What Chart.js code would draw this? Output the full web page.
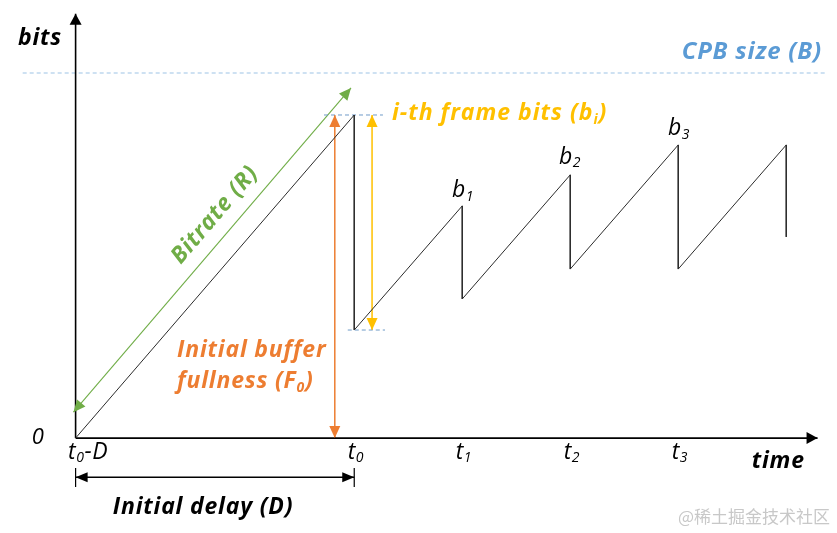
<!DOCTYPE html>
<html>
<head>
<meta charset="utf-8">
<script src="https://cdn.jsdelivr.net/npm/chart.js@4"></script>
<style>
  html, body { margin: 0; padding: 0; background: #fff; }
  #wrap { position: relative; width: 837px; height: 533px; }
  .mark { position: absolute; right: 7px; bottom: 5px; font: 17px "Noto Sans CJK SC", sans-serif; color: #c8c8c8; }
</style>
</head>
<body>
<div id="wrap">
  <canvas id="cpb" width="837" height="533"></canvas>
  <div class="mark">@稀土掘金技术社区</div>
</div>
<script>
/* CPB (coded picture buffer) fullness over time
   time unit = one frame period, t0-D = 0 ; bits in % of CPB size B */

const frameLabels = ['t0', 't1', 't2', 't3'];
const frameTimes = [2.58, 3.58, 4.58, 5.58];

// buffer fullness sawtooth (rise at rate R, drop by b_i at each t_i)
const sawTimes = [0, 2.58, 2.58, 3.58, 3.58, 4.58, 4.58, 5.58, 5.58, 6.58, 6.58];
const sawBits = [0, 88.5, 29.6, 63.6, 38.1, 72.1, 46.3, 80.3, 46.3, 80.3, 55.1];

const cpbSize = 100;
const timeAxisEnd = 6.87;
const bitsAxisEnd = 116.2;
const cpbLineFrom = -0.49, cpbLineTo = 6.96;

// bitrate arrow (parallel to the first rise)
const rateTimes = [-0.02, 2.55];
const rateBits = [7.1, 95.9];

const f0Time = 2.40;       // initial buffer fullness arrow
const biTime = 2.745;      // i-th frame bits arrow
const f0Bits = 88.5;
const afterB0 = 29.6;
const delayLevel = -10.7;  // initial delay arrow
const delayTick = [-8.2, -13.4];

const pts = (xs, ys) => xs.map((x, i) => ({ x, y: ys[i] }));

const line = (data, color, width, extra) => Object.assign({
  data, borderColor: color, backgroundColor: color, borderWidth: width,
  showLine: true, pointRadius: 0, fill: false, tension: 0
}, extra || {});

const datasets = [
  line(pts(sawTimes, sawBits), '#2b2b2b', 1),
  line(pts([0, 0], [0, bitsAxisEnd]), '#000', 1.6, { arrow: 'end', arrowLen: 11, arrowWidth: 12 }),
  line(pts([0, timeAxisEnd], [0, 0]), '#000', 1.6, { arrow: 'end', arrowLen: 11, arrowWidth: 12 }),
  line(pts([cpbLineFrom, cpbLineTo], [cpbSize, cpbSize]), '#9dc3e6', 1.2, { borderDash: [4, 3] }),
  line(pts([2.30, 2.846], [f0Bits, f0Bits]), '#6f9bc8', 1, { borderDash: [4, 3] }),
  line(pts([2.52, 2.865], [afterB0, afterB0]), '#6f9bc8', 1, { borderDash: [4, 3] }),
  line(pts(rateTimes, rateBits), '#70ad47', 1.1, { arrow: 'both', arrowLen: 12, arrowWidth: 11 }),
  line(pts([f0Time, f0Time], [0, f0Bits]), '#ed7d31', 1.5, { arrow: 'both', arrowLen: 12, arrowWidth: 11 }),
  line(pts([biTime, biTime], [f0Bits, afterB0]), '#ffc000', 1.5, { arrow: 'both', arrowLen: 12, arrowWidth: 11 }),
  line(pts([0, frameTimes[0]], [delayLevel, delayLevel]), '#000', 1.5, { arrow: 'both', arrowLen: 12, arrowWidth: 10 }),
  line(pts([0, 0], delayTick), '#000', 1.2),
  line(pts([frameTimes[0], frameTimes[0]], delayTick), '#000', 1.2)
];

const FAM = '"Open Sans", "DejaVu Sans", sans-serif';
const BLUE = '#5b9bd5', YEL = '#ffc000', ORG = '#ed7d31', GRN = '#70ad47';

// text: segments [text, isSubscript]
const texts = [
  { seg: [['bits']], x: -0.33, y: 109.6, w: 'bold', size: 23, ls: 0.8, color: '#000', align: 'center' },
  { seg: [['CPB size (B)']], x: 6.91, y: 105.7, w: 'bold', size: 24, ls: 0.8, color: BLUE, align: 'right' },
  { seg: [['i-th frame bits (b'], ['i', 1], [')']], x: 2.93, y: 89.0, w: 'bold', size: 23, ls: 1, color: YEL, align: 'left' },
  { seg: [['Bitrate (R)']], x: 1.29, y: 61.1, w: 'bold', size: 23, ls: 0.8, color: GRN, align: 'center', rotateTo: 6 },
  { seg: [['Initial buffer']], x: 0.94, y: 24.1, w: 'bold', size: 23, ls: 0.8, color: ORG, align: 'left' },
  { seg: [['fullness (F'], ['0', 1], [')']], x: 0.94, y: 15.6, w: 'bold', size: 23, ls: 0.8, color: ORG, align: 'left' },
  { seg: [['b'], ['1', 1]], x: 3.485, y: 67.9, w: 'normal', size: 23, ls: 0.5, color: '#000', align: 'left' },
  { seg: [['b'], ['2', 1]], x: 4.475, y: 77.0, w: 'normal', size: 23, ls: 0.5, color: '#000', align: 'left' },
  { seg: [['b'], ['3', 1]], x: 5.485, y: 84.9, w: 'normal', size: 23, ls: 0.5, color: '#000', align: 'left' },
  { seg: [['0']], x: -0.35, y: 0, w: 'normal', size: 22, ls: 0, color: '#000', align: 'center' },
  { seg: [['t'], ['0', 1], ['-D']], x: -0.07, y: -3.8, w: 'normal', size: 23, ls: 0.6, color: '#000', align: 'left' },
  { seg: [['time']], x: 6.26, y: -6.3, w: 'bold', size: 23, ls: 0.8, color: '#000', align: 'left' },
  { seg: [['Initial delay (D)']], x: 1.18, y: -18.9, w: 'bold', size: 23, ls: 0.8, color: '#000', align: 'center' }
];
frameLabels.forEach((lab, i) => {
  texts.push({ seg: [[lab[0]], [lab.slice(1), 1]], x: frameTimes[i] - 0.06, y: -3.8, w: 'normal', size: 23, ls: 0.5, color: '#000', align: 'left' });
});

const arrowHeads = {
  id: 'arrowHeads',
  afterDatasetsDraw(chart) {
    const ctx = chart.ctx;
    chart.data.datasets.forEach((ds, i) => {
      if (!ds.arrow) return;
      const els = chart.getDatasetMeta(i).data;
      const a = els[0], b = els[els.length - 1];
      const L = ds.arrowLen, W = ds.arrowWidth;
      const head = (tip, from) => {
        const ang = Math.atan2(tip.y - from.y, tip.x - from.x);
        ctx.save();
        ctx.translate(tip.x, tip.y);
        ctx.rotate(ang);
        ctx.beginPath();
        ctx.moveTo(0, 0);
        ctx.lineTo(-L, W / 2);
        ctx.lineTo(-L, -W / 2);
        ctx.closePath();
        ctx.fillStyle = ds.borderColor;
        ctx.fill();
        ctx.restore();
      };
      head(b, a);
      if (ds.arrow === 'both') head(a, b);
    });
  }
};

const richText = {
  id: 'richText',
  afterDraw(chart) {
    const ctx = chart.ctx, sx = chart.scales.x, sy = chart.scales.y;
    texts.forEach(t => {
      const fMain = `italic ${t.w} ${t.size}px ${FAM}`;
      const fSub = `italic ${t.w} ${Math.round(t.size * 0.62)}px ${FAM}`;
      ctx.save();
      ctx.letterSpacing = t.ls + 'px';
      let total = 0;
      const widths = t.seg.map(([s, sub]) => {
        ctx.font = sub ? fSub : fMain;
        const w = ctx.measureText(s).width;
        total += w;
        return w;
      });
      const px = sx.getPixelForValue(t.x), py = sy.getPixelForValue(t.y);
      ctx.translate(px, py);
      if (t.rotateTo !== undefined) {
        const els = chart.getDatasetMeta(t.rotateTo).data;
        const a = els[0], b = els[els.length - 1];
        ctx.rotate(Math.atan2(b.y - a.y, b.x - a.x));
      }
      let x = t.align === 'center' ? -total / 2 : t.align === 'right' ? -total : 0;
      ctx.fillStyle = t.color;
      ctx.textBaseline = 'middle';
      ctx.textAlign = 'left';
      t.seg.forEach(([s, sub], k) => {
        ctx.font = sub ? fSub : fMain;
        ctx.fillText(s, x, sub ? t.size * 0.28 : 0);
        x += widths[k];
      });
      ctx.restore();
    });
  }
};

new Chart(document.getElementById('cpb'), {
  type: 'scatter',
  data: { datasets },
  options: {
    responsive: false,
    animation: false,
    layout: { padding: 0 },
    plugins: { legend: { display: false }, tooltip: { enabled: false } },
    scales: {
      x: { type: 'linear', min: -0.7, max: 7.05, display: false },
      y: { type: 'linear', min: -26, max: 120, display: false }
    }
  },
  plugins: [arrowHeads, richText]
});
</script>
</body>
</html>
